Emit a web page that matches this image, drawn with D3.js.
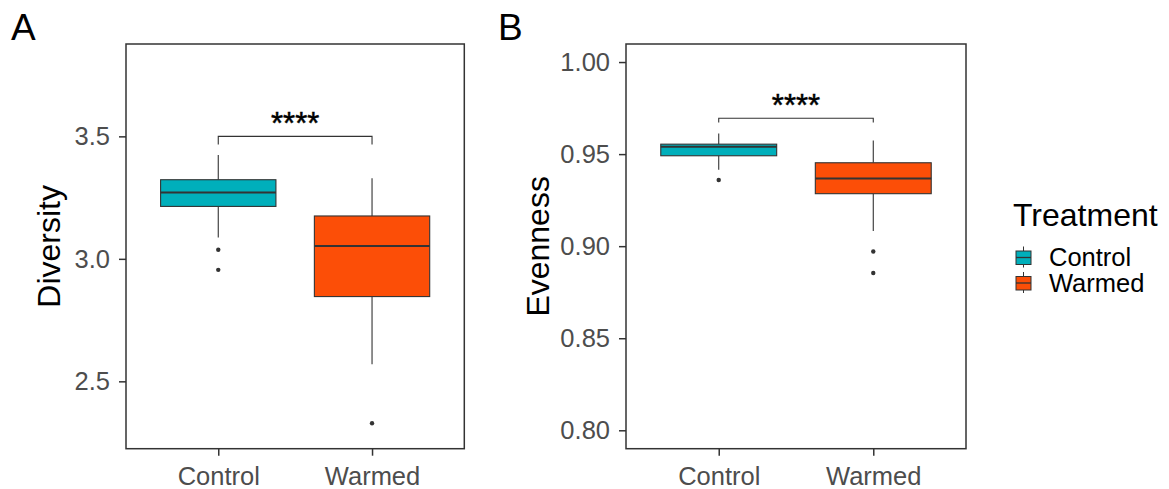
<!DOCTYPE html>
<html>
<head>
<meta charset="utf-8">
<script src="https://cdn.jsdelivr.net/npm/d3@7"></script>
<style>
  html, body { margin: 0; padding: 0; background: #fff; }
  svg { display: block; font-family: "Liberation Sans", Arial, sans-serif; }
</style>
</head>
<body>
<svg id="chart" width="1169" height="489"></svg>
<script>
// ---------------- DATA ----------------
const categories = ["Control", "Warmed"];
const fillColors = ["#00AFBB", "#FC4E07"];

// Panel A: Diversity
const diversityWhiskerLow  = [3.087, 2.570];
const diversityQ1          = [3.214, 2.846];
const diversityMedian      = [3.271, 3.052];
const diversityQ3          = [3.323, 3.175];
const diversityWhiskerHigh = [3.424, 3.329];
const diversityOutliers    = [[3.037, 2.955], [2.329]];
const diversityTicks       = [2.5, 3.0, 3.5];
const diversityDomain      = [2.225, 3.877];
const diversityBracket     = [3.5, 3.467];
const diversityLabel       = "****";

// Panel B: Evenness
const evennessWhiskerLow  = [0.9415, 0.9082];
const evennessQ1          = [0.9491, 0.9285];
const evennessMedian      = [0.9540, 0.9367];
const evennessQ3          = [0.9554, 0.9453];
const evennessWhiskerHigh = [0.9612, 0.9574];
const evennessOutliers    = [[0.9359], [0.8971, 0.8854]];
const evennessTicks       = [0.80, 0.85, 0.90, 0.95, 1.00];
const evennessDomain      = [0.790, 1.0098];
const evennessBracket     = [0.9695, 0.9672];
const evennessLabel       = "****";

// ---------------- DRAW ----------------
const svg = d3.select("#chart");
const dark = "#333333";

function panel(opts) {
  const {left, right, top, bottom, domain, ticks, fmt, lo, q1, med, q3, hi, outs, bracket, label, title, titleX, tag, tagX} = opts;
  const g = svg.append("g");
  const x = d3.scalePoint().domain(categories).range([left, right]).padding(0.6);
  const y = d3.scaleLinear().domain(domain).range([bottom, top]);
  const bw = x.step() * 0.75;

  // axes
  const ya = g.append("g").attr("transform", `translate(${left},0)`)
    .call(d3.axisLeft(y).tickValues(ticks).tickFormat(d3.format(fmt)).tickSize(7).tickSizeOuter(0).tickPadding(9));
  ya.select(".domain").remove();
  ya.selectAll(".tick line").attr("stroke", dark).attr("stroke-width", 1.5);
  ya.selectAll(".tick text").attr("fill", "#4D4D4D").style("font-size", "25.5px")
    .style("font-family", "'Liberation Sans', Arial, sans-serif");

  const xa = g.append("g").attr("transform", `translate(0,${bottom})`)
    .call(d3.axisBottom(x).tickSize(7).tickSizeOuter(0).tickPadding(11));
  xa.select(".domain").remove();
  xa.selectAll(".tick line").attr("stroke", dark).attr("stroke-width", 1.5);
  xa.selectAll(".tick text").attr("fill", "#4D4D4D").style("font-size", "25.5px")
    .style("font-family", "'Liberation Sans', Arial, sans-serif");

  // boxes
  categories.forEach((c, i) => {
    const cx = x(c);
    g.append("line").attr("x1", cx).attr("x2", cx).attr("y1", y(hi[i])).attr("y2", y(q3[i]))
      .attr("stroke", dark).attr("stroke-width", 1.1);
    g.append("line").attr("x1", cx).attr("x2", cx).attr("y1", y(q1[i])).attr("y2", y(lo[i]))
      .attr("stroke", dark).attr("stroke-width", 1.1);
    g.append("rect").attr("x", cx - bw / 2).attr("width", bw)
      .attr("y", y(q3[i])).attr("height", y(q1[i]) - y(q3[i]))
      .attr("fill", fillColors[i]).attr("stroke", dark).attr("stroke-width", 1.1);
    g.append("line").attr("x1", cx - bw / 2).attr("x2", cx + bw / 2)
      .attr("y1", y(med[i])).attr("y2", y(med[i]))
      .attr("stroke", dark).attr("stroke-width", 2);
    outs[i].forEach(v => {
      g.append("circle").attr("cx", cx).attr("cy", y(v)).attr("r", 2.2).attr("fill", dark);
    });
  });

  // bracket
  const bx1 = x(categories[0]), bx2 = x(categories[1]);
  g.append("path")
    .attr("d", `M${bx1},${y(bracket[1])}V${y(bracket[0])}H${bx2}V${y(bracket[1])}`)
    .attr("fill", "none").attr("stroke", dark).attr("stroke-width", 1.1);
  g.append("text").attr("x", (bx1 + bx2) / 2).attr("y", y(bracket[0]) - 2.5)
    .attr("text-anchor", "middle").style("font-size", "31px").attr("fill", "#000")
    .attr("stroke", "#000").attr("stroke-width", 0.5)
    .text(label);

  // panel border
  g.append("rect").attr("x", left).attr("y", top).attr("width", right - left).attr("height", bottom - top)
    .attr("fill", "none").attr("stroke", dark).attr("stroke-width", 1.5);

  // axis title
  g.append("text").attr("transform", `translate(${titleX},${(top + bottom) / 2}) rotate(-90)`)
    .attr("text-anchor", "middle").style("font-size", "32px").attr("fill", "#000").text(title);

  // tag
  g.append("text").attr("x", tagX).attr("y", 40).style("font-size", "37px").attr("fill", "#000").text(tag);
}

panel({left: 126, right: 464.3, top: 44, bottom: 448.7, domain: diversityDomain, ticks: diversityTicks, fmt: ".1f",
  lo: diversityWhiskerLow, q1: diversityQ1, med: diversityMedian, q3: diversityQ3, hi: diversityWhiskerHigh,
  outs: diversityOutliers, bracket: diversityBracket, label: diversityLabel, title: "Diversity", titleX: 60, tag: "A", tagX: 11});

panel({left: 626, right: 966, top: 44, bottom: 448.7, domain: evennessDomain, ticks: evennessTicks, fmt: ".2f",
  lo: evennessWhiskerLow, q1: evennessQ1, med: evennessMedian, q3: evennessQ3, hi: evennessWhiskerHigh,
  outs: evennessOutliers, bracket: evennessBracket, label: evennessLabel, title: "Evenness", titleX: 549, tag: "B", tagX: 498});

// legend
const lg = svg.append("g");
lg.append("text").attr("x", 1013).attr("y", 226).style("font-size", "32px").attr("fill", "#000").text("Treatment");
const keyY = d3.scalePoint().domain(categories).range([257.5, 283]);
categories.forEach((c, i) => {
  const cy = keyY(c);
  const kx = 1023.5;
  lg.append("line").attr("x1", kx).attr("x2", kx).attr("y1", cy - 11).attr("y2", cy + 10)
    .attr("stroke", dark).attr("stroke-width", 1);
  lg.append("rect").attr("x", kx - 7.5).attr("y", cy - 6.5).attr("width", 15).attr("height", 13.5)
    .attr("fill", fillColors[i]).attr("stroke", dark).attr("stroke-width", 1);
  lg.append("line").attr("x1", kx - 7.5).attr("x2", kx + 7.5).attr("y1", cy).attr("y2", cy)
    .attr("stroke", dark).attr("stroke-width", 1.3);
  lg.append("text").attr("x", 1049).attr("y", cy + 8.5).style("font-size", "25.5px").attr("fill", "#000").text(c);
});
</script>
</body>
</html>
